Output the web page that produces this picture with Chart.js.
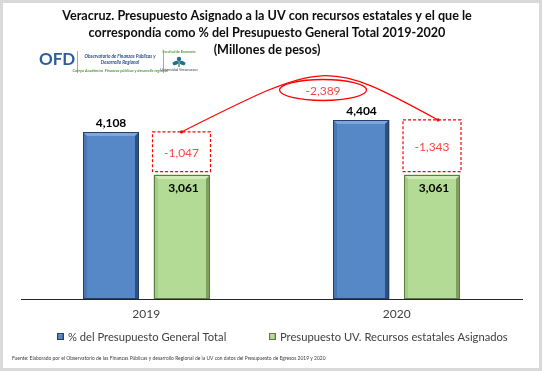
<!DOCTYPE html>
<html>
<head>
<meta charset="utf-8">
<script src="https://cdn.jsdelivr.net/npm/chart.js@4.4.1/dist/chart.umd.min.js"></script>
<style>
  html, body { margin: 0; padding: 0; background: #fff; }
  #wrap { width: 542px; height: 371px; }
</style>
</head>
<body>
<div id="wrap"><canvas id="budgetChart" width="542" height="371"></canvas></div>
<script>
// --- data ---
const years = ['2019', '2020'];
const totalShare = [4108, 4404];      // % del Presupuesto General Total
const assignedUV = [3061, 3061];      // Presupuesto UV, recursos estatales
const yearGaps = ['-1,047', '-1,343'];
const overallGap = '-2,389';
const seriesNames = ['% del Presupuesto General Total', 'Presupuesto UV. Recursos estatales Asignados'];
const titleLines = [
  'Veracruz. Presupuesto Asignado a la UV con recursos estatales y el que le',
  'correspondía como % del Presupuesto General Total 2019-2020',
  '(Millones de pesos)'
];
const footNote = 'Fuente: Elaborado por el Observatorio de las Finanzas Públicas y desarrollo Regional de la UV con datos del Presupuesto de Egresos 2019 y 2020';

const FONT = 'Lato, "Open Sans", sans-serif';
const fills = ['#5687c6', '#b3db95'];
const shades = [
  { top: '#7fa6db', left: '#4a78b4', right: '#2f4f7d', edge: '#24406a' },
  { top: '#d0ebb9', left: '#a3cc84', right: '#7e9f60', edge: '#5d7a41' }
];

function poly(ctx, pts, color) {
  ctx.beginPath();
  ctx.moveTo(pts[0][0], pts[0][1]);
  for (let i = 1; i < pts.length; i++) ctx.lineTo(pts[i][0], pts[i][1]);
  ctx.closePath();
  ctx.fillStyle = color;
  ctx.fill();
}

function bevelBox(ctx, l, t, r, b, k, s, fill) {
  if (fill) { ctx.fillStyle = fill; ctx.fillRect(l, t, r - l, b - t); }
  poly(ctx, [[l, t], [r, t], [r - k, t + k], [l + k, t + k]], s.top);
  poly(ctx, [[l, t], [l + k, t + k], [l + k, b], [l, b]], s.left);
  poly(ctx, [[r, t], [r, b], [r - k, b], [r - k, t + k]], s.right);
  ctx.strokeStyle = s.edge;
  ctx.lineWidth = 1;
  ctx.strokeRect(l + 0.5, t + 0.5, r - l - 1, b - t - 1);
}

// 3D look on the bars, drawn on the bar elements
const bevelPlugin = {
  id: 'bevel',
  afterDatasetsDraw(chart) {
    const ctx = chart.ctx;
    chart.data.datasets.forEach((ds, di) => {
      chart.getDatasetMeta(di).data.forEach(bar => {
        const l = Math.round(bar.x - bar.width / 2), r = Math.round(bar.x + bar.width / 2);
        ctx.save();
        bevelBox(ctx, l, Math.round(bar.y), r, Math.round(bar.base), 4, shades[di]);
        ctx.restore();
      });
    });
  }
};

// value labels, dashed gap boxes, arc and ellipse
const notesPlugin = {
  id: 'notes',
  afterDraw(chart) {
    const ctx = chart.ctx;
    const y = chart.scales.y;
    const blue = chart.getDatasetMeta(0).data;
    const green = chart.getDatasetMeta(1).data;
    ctx.save();
    ctx.textAlign = 'center';
    ctx.textBaseline = 'middle';
    ctx.font = 'bold 12px ' + FONT;
    ctx.fillStyle = '#000';
    blue.forEach((b, i) => ctx.fillText(totalShare[i].toLocaleString('en-US'), b.x, b.y - 9));
    green.forEach((g, i) => ctx.fillText(assignedUV[i].toLocaleString('en-US'), g.x + 2, g.y + 14));

    // dashed boxes between the two bar tops
    green.forEach((g, i) => {
      const top = y.getPixelForValue(totalShare[i]);
      const bot = g.y - 3;
      const l = g.x - g.width / 2 - 1, r = g.x + g.width / 2 + 1;
      ctx.setLineDash([3, 2]);
      ctx.strokeStyle = '#ff0000';
      ctx.lineWidth = 1.2;
      ctx.strokeRect(l, top, r - l, bot - top);
      ctx.setLineDash([]);
      ctx.font = '12px ' + FONT;
      ctx.fillStyle = '#ff4545';
      ctx.fillText(yearGaps[i], g.x, (top + bot) / 2 + 1);
    });

    // arc joining the two boxes
    const x0 = green[0].x, y0 = y.getPixelForValue(totalShare[0]);
    const x3 = green[1].x + 6, y3 = y.getPixelForValue(totalShare[1]);
    const cx = x0 + 0.565 * (green[1].x - x0);
    const cy = y.getPixelForValue(5140);
    const ctrlY = y.getPixelForValue(5900);
    ctx.strokeStyle = '#ff0000';
    ctx.lineWidth = 1.2;
    ctx.beginPath();
    ctx.moveTo(x0, y0);
    ctx.bezierCurveTo(cx + 3, ctrlY, cx + 3, ctrlY, x3, y3);
    ctx.stroke();
    ctx.fillStyle = '#ff0000';
    [[x0, y0], [x3, y3]].forEach(p => { ctx.beginPath(); ctx.arc(p[0], p[1], 1.6, 0, Math.PI * 2); ctx.fill(); });

    ctx.beginPath();
    ctx.ellipse(cx, cy, 43.5, 10.5, 0, 0, Math.PI * 2);
    ctx.fillStyle = '#fff';
    ctx.fill();
    ctx.lineWidth = 1.3;
    ctx.stroke();
    ctx.font = '12px ' + FONT;
    ctx.fillStyle = '#ff4545';
    ctx.fillText(overallGap, cx, cy + 1);
    ctx.restore();
  }
};

// title, logo, legend, footnote, frame
const decorPlugin = {
  id: 'decor',
  afterDraw(chart) {
    const ctx = chart.ctx;
    ctx.save();
    // frame
    ctx.strokeStyle = '#d9d9d9';
    ctx.lineWidth = 3;
    ctx.strokeRect(1.5, 1.5, 539, 368);

    // title
    ctx.textAlign = 'center';
    ctx.textBaseline = 'middle';
    ctx.fillStyle = '#0d0d0d';
    ctx.font = 'bold 12.6px ' + FONT;
    titleLines.forEach((t, i) => ctx.fillText(t, 267, 16 + i * 16.8));

    // OFD logo
    ctx.textAlign = 'left';
    ctx.font = 'bold 17px ' + FONT;
    ctx.fillStyle = '#2c5d9c';
    ctx.fillText('OFD', 39, 60);
    ctx.fillStyle = '#8cc36a';
    ctx.fillRect(77, 51, 1, 22);
    ctx.fillRect(163, 51, 1, 22);
    ctx.textAlign = 'center';
    ctx.font = 'italic bold 4.7px ' + FONT;
    ctx.fillStyle = '#2c4f86';
    ctx.fillText('Observatorio de Finanzas Públicas y', 120, 56);
    ctx.fillText('Desarrollo Regional', 120, 62.5);
    ctx.font = 'italic bold 3.9px ' + FONT;
    ctx.fillStyle = '#4f9a3a';
    ctx.fillText('Cuerpo Académico  Finanzas públicas y desarrollo regional', 120, 70.5);
    ctx.font = 'bold 3.4px ' + FONT;
    ctx.fillText('Facultad de Economía', 179, 52);
    ctx.fillStyle = '#5f6f80';
    ctx.fillText('Universidad Veracruzana', 179, 70);
    // UV emblem
    ctx.fillStyle = '#1f6f9a';
    ctx.beginPath(); ctx.arc(179, 59, 2.2, 0, Math.PI * 2); ctx.fill();
    ctx.beginPath(); ctx.ellipse(175.5, 63, 3, 2, -0.4, 0, Math.PI * 2); ctx.fill();
    ctx.beginPath(); ctx.ellipse(182.5, 63, 3, 2, 0.4, 0, Math.PI * 2); ctx.fill();
    ctx.fillStyle = '#3c8a3c';
    ctx.fillRect(178.3, 61, 1.4, 6);

    // legend
    ctx.textAlign = 'left';
    ctx.font = '11.2px ' + FONT;
    const legX = [57, 269];
    seriesNames.forEach((n, i) => {
      bevelBox(ctx, legX[i], 333, legX[i] + 7, 340, 1.5, shades[i], fills[i]);
      ctx.fillStyle = '#404040';
      ctx.fillText(n, legX[i] + 11, 337.5);
    });

    // footnote
    ctx.font = '4.95px ' + FONT;
    ctx.fillStyle = '#404040';
    ctx.fillText(footNote, 12, 358);
    ctx.restore();
  }
};

new Chart(document.getElementById('budgetChart'), {
  type: 'bar',
  data: {
    labels: years,
    datasets: [
      { label: seriesNames[0], data: totalShare, backgroundColor: fills[0], borderWidth: 0 },
      { label: seriesNames[1], data: assignedUV, backgroundColor: fills[1], borderWidth: 0 }
    ]
  },
  options: {
    responsive: false,
    animation: false,
    devicePixelRatio: 1,
    categoryPercentage: 0.563,
    barPercentage: 0.794,
    layout: { padding: { left: 21, right: 20, top: 55, bottom: 41.5 } },
    plugins: {
      legend: { display: false },
      title: { display: false },
      tooltip: { enabled: false }
    },
    scales: {
      x: {
        grid: { display: false, drawTicks: false },
        border: { display: true, color: '#262626', width: 1 },
        ticks: { color: '#404040', font: { family: FONT, size: 12 }, padding: 8 }
      },
      y: { display: false, min: 0, max: 6000 }
    }
  },
  plugins: [bevelPlugin, notesPlugin, decorPlugin]
});
</script>
</body>
</html>
